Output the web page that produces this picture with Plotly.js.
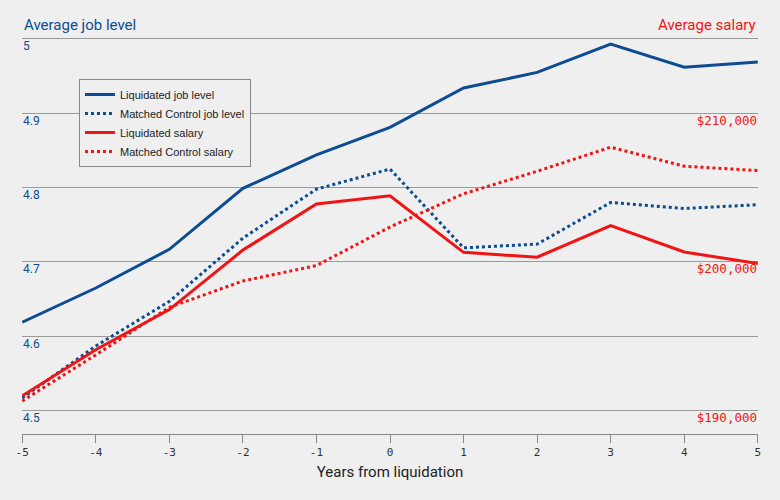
<!DOCTYPE html>
<html>
<head>
<meta charset="utf-8">
<script src="https://cdn.plot.ly/plotly-3.0.1.min.js"></script>
<style>html,body{margin:0;padding:0;background:#efefef;}#chart{width:780px;height:500px;}</style>
</head>
<body>
<div id="chart"></div>
<script>
const years = [-5, -4, -3, -2, -1, 0, 1, 2, 3, 4, 5];
const liquidatedJobLevel = [4.619, 4.665, 4.717, 4.799, 4.844, 4.881, 4.934, 4.955, 4.993, 4.962, 4.969];
const controlJobLevel = [4.517, 4.587, 4.647, 4.732, 4.798, 4.825, 4.719, 4.724, 4.780, 4.772, 4.777];
const liquidatedSalary = [191000, 194100, 196800, 200800, 203900, 204450, 200650, 200320, 202450, 200670, 199900];
const controlSalary = [190650, 193750, 196950, 198720, 199760, 202350, 204590, 206100, 207720, 206440, 206150];
const levelTicks = [4.5, 4.6, 4.7, 4.8, 4.9, 5];
const levelTickText = ['4.5', '4.6', '4.7', '4.8', '4.9', '5'];
const salaryTicks = [190000, 200000, 210000];
const salaryTickText = ['$190,000', '$200,000', '$210,000'];
const seriesNames = ['Liquidated job level', 'Matched Control job level', 'Liquidated salary', 'Matched Control salary'];

const BLUE = '#0d4c92';
const RED = '#f01414';
const levelRange = [4.4686, 5.004];
const salaryRange = [190000 + (levelRange[0] - 4.5) * 50000, 190000 + (levelRange[1] - 4.5) * 50000];

const traces = [
  {x: years, y: liquidatedJobLevel, name: seriesNames[0], mode: 'lines', line: {color: BLUE, width: 3}, yaxis: 'y'},
  {x: years, y: controlJobLevel, name: seriesNames[1], mode: 'lines', line: {color: BLUE, width: 3, dash: 'dot'}, yaxis: 'y'},
  {x: years, y: liquidatedSalary, name: seriesNames[2], mode: 'lines', line: {color: RED, width: 3}, yaxis: 'y2'},
  {x: years, y: controlSalary, name: seriesNames[3], mode: 'lines', line: {color: RED, width: 3, dash: 'dot'}, yaxis: 'y2'}
];

const layout = {
  width: 780, height: 500,
  paper_bgcolor: '#efefef', plot_bgcolor: '#efefef',
  margin: {l: 21.8, r: 21.8, t: 36, b: 66},
  showlegend: true,
  legend: {
    x: 0.0774, y: 0.892, xanchor: 'left', yanchor: 'top',
    bgcolor: '#efefef', bordercolor: '#888888', borderwidth: 1,
    font: {family: 'Liberation Sans, Arial, sans-serif', size: 11, color: '#222'},
    tracegroupgap: 0, itemwidth: 30
  },
  xaxis: {
    range: [-5.003, 5.003], tickvals: years, ticktext: years.map(String),
    showgrid: false, zeroline: false,
    showline: true, linecolor: '#888', linewidth: 1,
    ticks: 'outside', ticklen: 8, tickcolor: '#888',
    tickfont: {family: 'DejaVu Sans Mono, monospace', size: 11, color: '#333'},
    title: {text: 'Years from liquidation', font: {family: 'Liberation Sans Narrow, Roboto, sans-serif', size: 15, color: '#222'}, standoff: 8}
  },
  yaxis: {
    range: levelRange, tickvals: levelTicks, ticktext: levelTickText,
    showgrid: true, gridcolor: '#999', gridwidth: 1, zeroline: false, showline: false,
    ticks: '', ticklabelposition: 'inside', ticklabelshift: 7, ticklabelstandoff: -2,
    ticklabeloverflow: 'allow',
    tickfont: {family: 'Liberation Sans Narrow, Roboto, sans-serif', size: 12, color: BLUE}
  },
  yaxis2: {
    overlaying: 'y', side: 'right',
    range: salaryRange, tickvals: salaryTicks, ticktext: salaryTickText,
    showgrid: false, zeroline: false, showline: false,
    ticks: '', ticklabelposition: 'inside', ticklabelshift: 7, ticklabelstandoff: -2,
    ticklabeloverflow: 'allow',
    tickfont: {family: 'DejaVu Sans Mono, monospace', size: 12.5, color: RED}
  },
  annotations: [
    {text: 'Average job level', xref: 'paper', yref: 'paper', x: 0, y: 1, yshift: 0, xanchor: 'left', yanchor: 'bottom', showarrow: false,
     font: {family: 'Liberation Sans Narrow, Roboto, sans-serif', size: 15, color: BLUE}},
    {text: 'Average salary', xref: 'paper', yref: 'paper', x: 1, y: 1, yshift: 0, xanchor: 'right', yanchor: 'bottom', showarrow: false,
     font: {family: 'Liberation Sans Narrow, Roboto, sans-serif', size: 15, color: RED}}
  ]
};

Plotly.newPlot('chart', traces, layout, {displayModeBar: false, staticPlot: true});
</script>
</body>
</html>
